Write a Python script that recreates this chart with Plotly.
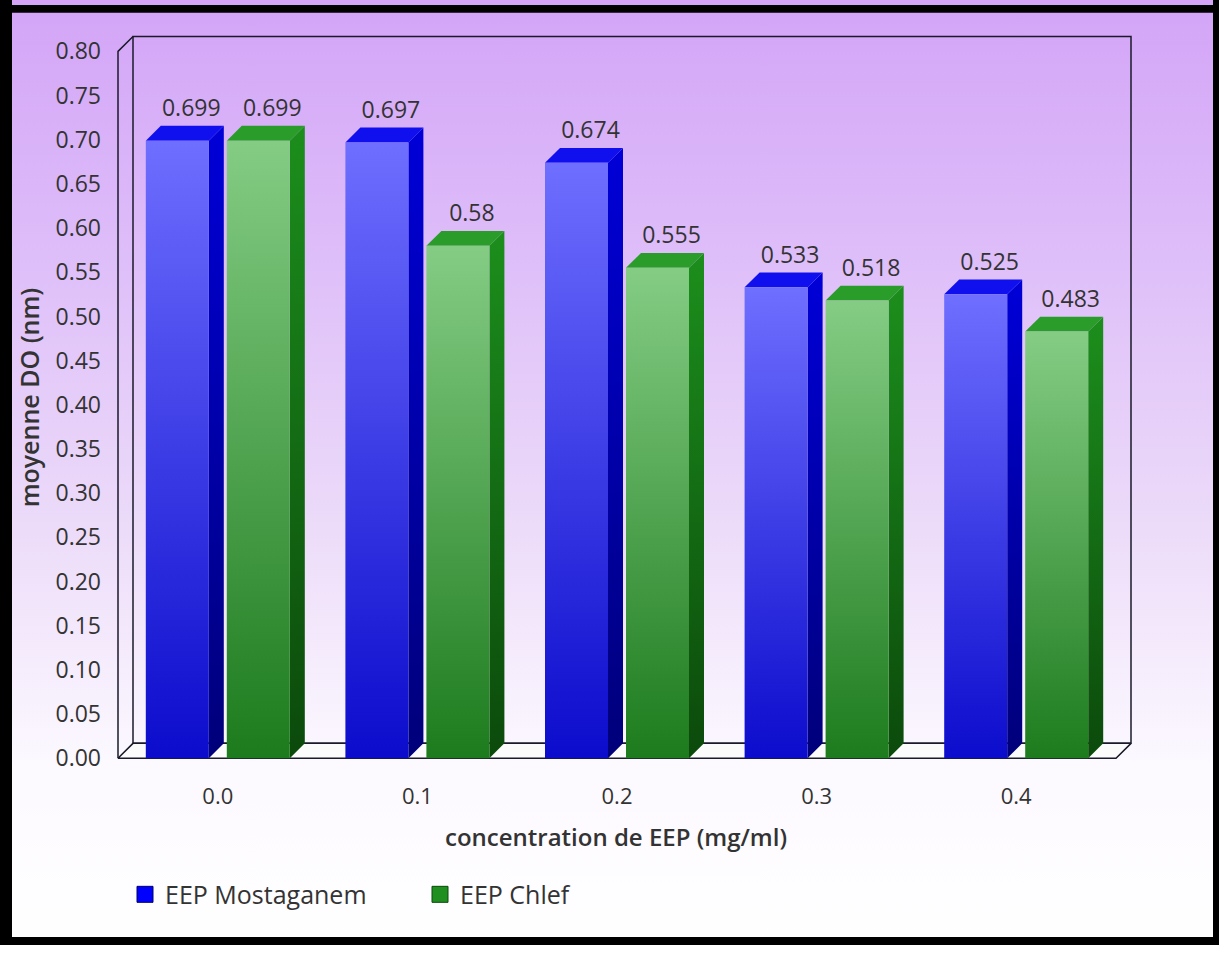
import plotly.graph_objects as go

# ---- data ----
categories = ["0.0", "0.1", "0.2", "0.3", "0.4"]
series_names = ["EEP Mostaganem", "EEP Chlef"]
mostaganem = [0.699, 0.697, 0.674, 0.533, 0.525]
chlef = [0.699, 0.58, 0.555, 0.518, 0.483]
y_ticks = [round(i * 0.05, 2) for i in range(17)]

# ---- page geometry (pixels) ----
W, H = 1219, 956
FX0, FX1 = 118, 1116          # front edge of the plot box
Y0PX, Y8PX = 767, 52          # pixel rows of 0.00 and 0.80
U = (FX1 - FX0) / len(categories)   # px per category
S = 0.8 / (Y0PX - Y8PX)             # value per px
DEPTH = 15                     # px of 3D depth
DX, DY = DEPTH / U, DEPTH * S
BOX_L, BOX_R, BOX_T, BOX_B = 114, 1137, 31, 771

x_range = [-0.5 - (FX0 - BOX_L) / U, -0.5 + (BOX_R - FX0) / U]
y_range = [-(BOX_B - Y0PX) * S, (Y0PX - BOX_T) * S]
x_front_r = len(categories) - 0.5

BAR_W = 63 / U
BAR_OFF = [-40.5 / U, 40.5 / U]

FONT = "Open Sans"
TXT = "#333333"

styles = [
    dict(front=["#0a0acc", "#6e6eff"], side=["#000078", "#0000d8"], top="#1010ee",
         legend="#0000ff", edge="#000070"),
    dict(front=["#1b7a1b", "#84cc84"], side=["#0b480b", "#1c8e1c"], top="#2a9c2a",
         legend="#1f8f1f", edge="#0b4a0b"),
]

fig = go.Figure()

# background gradient on a full-page helper subplot
fig.add_trace(go.Scatter(
    x=[0, 1, 1, 0, 0], y=[0, 0, 1, 1, 0], mode="lines", fill="toself",
    line=dict(width=0),
    fillgradient=dict(type="vertical", start=0, stop=1,
                      colorscale=[[0, "#ffffff"], [0.2, "#fcf9ff"], [0.45, "#ecdbf9"],
                                  [0.75, "#ddbcf9"], [1, "#d3a4f7"]]),
    xaxis="x", yaxis="y", hoverinfo="skip", showlegend=False))

# floor
fig.add_trace(go.Scatter(
    x=[-0.5, x_front_r, x_front_r + DX, -0.5 + DX, -0.5],
    y=[0, 0, DY, DY, 0], mode="lines", fill="toself", fillcolor="#fbfbfb",
    line=dict(color="#1a1a2a", width=1.5), xaxis="x2", yaxis="y2",
    hoverinfo="skip", showlegend=False))

# walls: back rectangle and left side edges
fig.add_trace(go.Scatter(
    x=[-0.5 + DX, x_front_r + DX, x_front_r + DX, -0.5 + DX, -0.5 + DX, None,
       -0.5, -0.5, -0.5 + DX],
    y=[DY, DY, 0.8 + DY, 0.8 + DY, DY, None, 0, 0.8, 0.8 + DY],
    mode="lines", line=dict(color="#1a1a2a", width=1.5),
    xaxis="x2", yaxis="y2", hoverinfo="skip", showlegend=False))

# 3D bars
for k, (name, vals) in enumerate(zip(series_names, [mostaganem, chlef])):
    st = styles[k]
    for i, v in enumerate(vals):
        l = i + BAR_OFF[k] - BAR_W / 2
        r = i + BAR_OFF[k] + BAR_W / 2
        # side face
        fig.add_trace(go.Scatter(
            x=[r, r + DX, r + DX, r, r], y=[0, DY, v + DY, v, 0],
            mode="lines", fill="toself", line=dict(width=0),
            fillgradient=dict(type="vertical", start=0, stop=v + DY,
                              colorscale=[[0, st["side"][0]], [1, st["side"][1]]]),
            xaxis="x2", yaxis="y2", hoverinfo="skip", showlegend=False))
        # top face
        fig.add_trace(go.Scatter(
            x=[l, r, r + DX, l + DX, l], y=[v, v, v + DY, v + DY, v],
            mode="lines", fill="toself", fillcolor=st["top"], line=dict(width=0),
            xaxis="x2", yaxis="y2", hoverinfo="skip", showlegend=False))
        # front face
        fig.add_trace(go.Scatter(
            x=[l, r, r, l, l], y=[0, 0, v, v, 0],
            mode="lines", fill="toself", line=dict(width=0),
            fillgradient=dict(type="vertical", start=0, stop=v,
                              colorscale=[[0, st["front"][0]], [1, st["front"][1]]]),
            xaxis="x2", yaxis="y2", name=name,
            hovertemplate=f"{name}<br>%{{y}}<extra></extra>", showlegend=False))
    # value labels
    fig.add_trace(go.Scatter(
        x=[i + BAR_OFF[k] + 14 / U for i in range(len(vals))],
        y=[v + DY + 4 * S for v in vals],
        mode="text", text=[f"{v:g}" for v in vals], textposition="top center",
        textfont=dict(family=FONT, size=23, color=TXT), cliponaxis=False,
        xaxis="x2", yaxis="y2", hoverinfo="skip", showlegend=False))
    # legend entry
    fig.add_trace(go.Scatter(
        x=[None], y=[None], mode="markers", name=name,
        marker=dict(symbol="square", size=21, color=st["legend"],
                    line=dict(color=st["edge"], width=1)),
        xaxis="x2", yaxis="y2"))

# outer black frame
frame = [(0, 0, 12, H), (0, 5, W, 13), (1213, 0, W, H), (0, 948, W, H)]
shapes = [dict(type="rect", xref="paper", yref="paper", layer="above",
               x0=a / W, x1=c / W, y0=1 - d / H, y1=1 - b / H,
               fillcolor="black", line=dict(width=0)) for a, b, c, d in frame]
shapes.append(dict(type="rect", xref="paper", yref="paper", layer="below",
                   x0=0, x1=1, y0=1 - 5 / H, y1=1, fillcolor="white", line=dict(width=0)))

fig.update_layout(
    width=W, height=H, margin=dict(l=0, r=0, t=0, b=0),
    paper_bgcolor="white", plot_bgcolor="rgba(0,0,0,0)",
    font=dict(family=FONT, size=22, color=TXT),
    xaxis=dict(domain=[0, 1], range=[0, 1], visible=False, fixedrange=True),
    yaxis=dict(domain=[0, 1], range=[0, 1], visible=False, fixedrange=True),
    xaxis2=dict(domain=[BOX_L / W, BOX_R / W], range=x_range, anchor="y2",
                tickvals=list(range(len(categories))), ticktext=categories,
                showgrid=False, zeroline=False, showline=False, ticks="",
                ticklabelstandoff=19, tickfont=dict(family=FONT, size=22, color=TXT)),
    yaxis2=dict(domain=[1 - BOX_B / H, 1 - BOX_T / H], range=y_range, anchor="x2",
                tickvals=y_ticks, tickformat=".2f",
                showgrid=False, zeroline=False, showline=False, ticks="",
                ticklabelstandoff=12, tickfont=dict(family=FONT, size=23, color=TXT)),
    legend=dict(orientation="h", x=125 / W, y=1 - 905 / H, xanchor="left", yanchor="middle",
                font=dict(family=FONT, size=25, color=TXT), bgcolor="rgba(0,0,0,0)",
                entrywidth=250, entrywidthmode="pixels"),
    shapes=shapes,
    annotations=[
        dict(text="moyenne DO (nm)", xref="paper", yref="paper", x=29 / W, y=1 - 402 / H,
             textangle=-90, showarrow=False, xanchor="center", yanchor="middle",
             font=dict(family=FONT, size=25, color=TXT, weight=600)),
        dict(text="concentration de EEP (mg/ml)", xref="paper", yref="paper",
             x=616 / W, y=1 - 846 / H, showarrow=False, xanchor="center", yanchor="middle",
             font=dict(family=FONT, size=24, color=TXT, weight=600)),
    ],
)

fig.write_html("out.html")
